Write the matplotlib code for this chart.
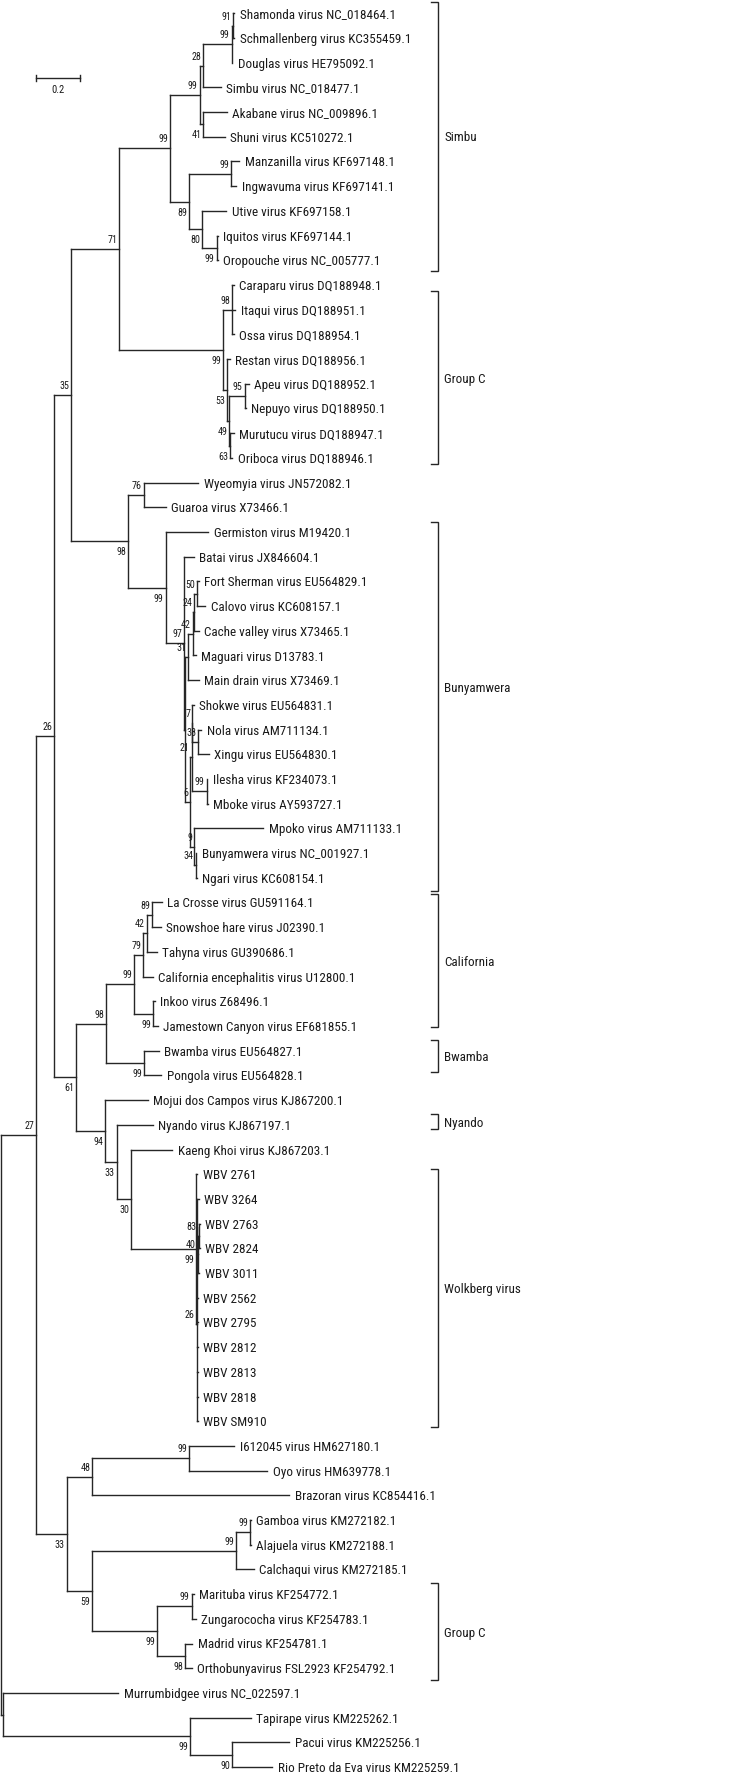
import matplotlib
matplotlib.use("Agg")
import matplotlib.pyplot as plt
from matplotlib import font_manager
from matplotlib.font_manager import FontProperties
from matplotlib.collections import LineCollection
from matplotlib.textpath import TextPath

# ---------------- data ----------------
leaf_names = [
    "Shamonda virus NC_018464.1", "Schmallenberg virus KC355459.1", "Douglas virus HE795092.1",
    "Simbu virus NC_018477.1", "Akabane virus NC_009896.1", "Shuni virus KC510272.1",
    "Manzanilla virus KF697148.1", "Ingwavuma virus KF697141.1", "Utive virus KF697158.1",
    "Iquitos virus KF697144.1", "Oropouche virus NC_005777.1", "Caraparu virus DQ188948.1",
    "Itaqui virus DQ188951.1", "Ossa virus DQ188954.1", "Restan virus DQ188956.1",
    "Apeu virus DQ188952.1", "Nepuyo virus DQ188950.1", "Murutucu virus DQ188947.1",
    "Oriboca virus DQ188946.1", "Wyeomyia virus JN572082.1", "Guaroa virus X73466.1",
    "Germiston virus M19420.1", "Batai virus JX846604.1", "Fort Sherman virus EU564829.1",
    "Calovo virus KC608157.1", "Cache valley virus X73465.1", "Maguari virus D13783.1",
    "Main drain virus X73469.1", "Shokwe virus EU564831.1", "Nola virus AM711134.1",
    "Xingu virus EU564830.1", "Ilesha virus KF234073.1", "Mboke virus AY593727.1",
    "Mpoko virus AM711133.1", "Bunyamwera virus NC_001927.1", "Ngari virus KC608154.1",
    "La Crosse virus GU591164.1", "Snowshoe hare virus J02390.1", "Tahyna virus GU390686.1",
    "California encephalitis virus U12800.1", "Inkoo virus Z68496.1",
    "Jamestown Canyon virus EF681855.1", "Bwamba virus EU564827.1", "Pongola virus EU564828.1",
    "Mojui dos Campos virus KJ867200.1", "Nyando virus KJ867197.1", "Kaeng Khoi virus KJ867203.1",
    "WBV 2761", "WBV 3264", "WBV 2763", "WBV 2824", "WBV 3011", "WBV 2562", "WBV 2795",
    "WBV 2812", "WBV 2813", "WBV 2818", "WBV SM910",
    "I612045 virus HM627180.1", "Oyo virus HM639778.1", "Brazoran virus KC854416.1",
    "Gamboa virus KM272182.1", "Alajuela virus KM272188.1", "Calchaqui virus KM272185.1",
    "Marituba virus KF254772.1", "Zungarococha virus KF254783.1", "Madrid virus KF254781.1",
    "Orthobunyavirus FSL2923 KF254792.1", "Murrumbidgee virus NC_022597.1",
    "Tapirape virus KM225262.1", "Pacui virus KM225256.1", "Rio Preto da Eva virus KM225259.1",
]

# distance of each tip from the root (substitutions / site)
leaf_depth = [
    1.0618, 1.0618, 1.0514, 0.9991, 1.0277, 1.0173, 1.0841, 1.0705, 1.0250, 0.9855,
    0.9855, 1.0582, 1.0659, 1.0582, 1.0400, 1.1264, 1.1150, 1.0582, 1.0523, 0.8982,
    0.7500, 0.9436, 0.8764, 0.8991, 0.9295, 0.8991, 0.8855, 0.8991, 0.8764, 0.9114,
    0.9459, 0.9400, 0.9414, 1.1936, 0.8886, 0.8914, 0.7323, 0.7264, 0.7095, 0.6914,
    0.6991, 0.7141, 0.7173, 0.7295, 0.6686, 0.6914, 0.7795, 0.8932, 0.8991, 0.9059,
    0.9059, 0.9036, 0.8959, 0.8959, 0.8959, 0.8959, 0.8959, 0.8959, 1.0627, 1.2114,
    1.3127, 1.1377, 1.1377, 1.1505, 0.8764, 0.8855, 0.8705, 0.8686, 0.5345, 1.1355,
    1.3127, 1.2341,
]

# internal nodes: name -> children (leaf indices or node names)
node_children = {
    "root": ["n27", "nM"],
    "nM": [68, "n99t"],
    "n99t": [69, "n90"],
    "n90": [70, 71],
    "n27": ["n26", "n33b"],
    "n26": ["n35", "n61"],
    "n35": ["n71", "n98b"],
    "n71": ["nSimbu", "nGC"],
    "nSimbu": ["n99a", "n89"],
    "n99a": ["n28", "n41"],
    "n28": ["n99s", 3],
    "n99s": ["n91", 2],
    "n91": [0, 1],
    "n41": [4, 5],
    "n89": ["n99m", "n80"],
    "n99m": [6, 7],
    "n80": [8, "n99o"],
    "n99o": [9, 10],
    "nGC": ["n98c", "n53"],
    "n98c": [11, 12, 13],
    "n53": [14, "n49"],
    "n49": ["n95", "n63"],
    "n95": [15, 16],
    "n63": [17, 18],
    "n98b": ["n76", "n99bun"],
    "n76": [19, 20],
    "n99bun": [21, "n97"],
    "n97": [22, "nX"],
    "nX": ["n31", "n6"],
    "n31": ["n42", 27],
    "n42": ["n24", 26],
    "n24": ["n50", 25],
    "n50": [23, 24],
    "n6": ["n21", "n9"],
    "n21": ["n7", "n99i"],
    "n7": [28, "n38"],
    "n38": [29, 30],
    "n99i": [31, 32],
    "n9": [33, "n34"],
    "n34": [34, 35],
    "n61": ["n98cb", "n94"],
    "n98cb": ["n99cal", "n99bw"],
    "n99cal": ["n79", "n99ij"],
    "n79": ["n42L", 39],
    "n42L": ["n89L", 38],
    "n89L": [36, 37],
    "n99ij": [40, 41],
    "n99bw": [42, 43],
    "n94": [44, "n33"],
    "n33": [45, "n30"],
    "n30": [46, "nWBV"],
    "nWBV": [47, "nRest"],
    "nRest": ["nG", 52, 53, 54, 55, 56, 57],
    "nG": [48, "n40"],
    "n40": ["n83", 51],
    "n83": [49, 50],
    "n33b": ["n48", "n59"],
    "n48": ["n99io", 60],
    "n99io": [58, 59],
    "n59": ["n99gac", "n99gc2"],
    "n99gac": ["n99ga", 63],
    "n99ga": [61, 62],
    "n99gc2": ["n99mz", "n98mf"],
    "n99mz": [64, 65],
    "n98mf": [66, 67],
}

node_depth = {
    "root": 0.0, "nM": 0.0086, "n99t": 0.8605, "n90": 1.0527, "n27": 0.1605,
    "n26": 0.2423, "n35": 0.3195, "n71": 0.5377, "nSimbu": 0.7695, "n99a": 0.9045,
    "n28": 0.9195, "n99s": 1.0500, "n91": 1.0559, "n41": 0.9209, "n89": 0.8559,
    "n99m": 1.0468, "n80": 0.9164, "n99o": 0.9818, "nGC": 1.0118, "n98c": 1.0514,
    "n53": 1.0273, "n49": 1.0391, "n95": 1.1082, "n63": 1.0423, "n98b": 0.5800,
    "n76": 0.6514, "n99bun": 0.7500, "n97": 0.8332, "nX": 0.8391, "n31": 0.8527,
    "n42": 0.8727, "n24": 0.8800, "n50": 0.8945, "n6": 0.8605, "n21": 0.8682,
    "n7": 0.8709, "n38": 0.8982, "n99i": 0.9355, "n9": 0.8786, "n34": 0.8855,
    "n61": 0.3423, "n98cb": 0.4786, "n99cal": 0.6073, "n79": 0.6482, "n42L": 0.6636,
    "n89L": 0.6891, "n99ij": 0.6936, "n99bw": 0.6527, "n94": 0.4741, "n33": 0.5273,
    "n30": 0.5923, "nWBV": 0.8877, "nRest": 0.8905, "nG": 0.8923, "n40": 0.8959,
    "n83": 0.9005, "n33b": 0.3000, "n48": 0.4164, "n99io": 0.8559, "n59": 0.4164,
    "n99gac": 1.0695, "n99ga": 1.1332, "n99gc2": 0.7118, "n99mz": 0.8682, "n98mf": 0.8377,
}

node_support = {
    "n99t": 99, "n90": 90, "n27": 27, "n26": 26, "n35": 35, "n71": 71, "nSimbu": 99,
    "n99a": 99, "n28": 28, "n99s": 99, "n91": 91, "n41": 41, "n89": 89, "n99m": 99,
    "n80": 80, "n99o": 99, "nGC": 99, "n98c": 98, "n53": 53, "n49": 49, "n95": 95,
    "n63": 63, "n98b": 98, "n76": 76, "n99bun": 99, "n97": 97, "n31": 31, "n42": 42,
    "n24": 24, "n50": 50, "n6": 6, "n21": 21, "n7": 7, "n38": 38, "n99i": 99, "n9": 9,
    "n34": 34, "n61": 61, "n98cb": 98, "n99cal": 99, "n79": 79, "n42L": 42, "n89L": 89,
    "n99ij": 99, "n99bw": 99, "n94": 94, "n33": 33, "n30": 30, "nWBV": 99, "nRest": 26,
    "n40": 40, "n83": 83, "n33b": 33, "n48": 48, "n99io": 99, "n59": 59, "n99gac": 99,
    "n99ga": 99, "n99gc2": 99, "n99mz": 99, "n98mf": 98,
}

clade_names = ["Simbu", "Group C", "Bunyamwera", "California", "Bwamba", "Nyando",
               "Wolkberg virus", "Group C"]
clade_first = ["Shamonda virus NC_018464.1", "Caraparu virus DQ188948.1",
               "Germiston virus M19420.1", "La Crosse virus GU591164.1",
               "Bwamba virus EU564827.1", "Nyando virus KJ867197.1", "WBV 2761",
               "Marituba virus KF254772.1"]
clade_last = ["Oropouche virus NC_005777.1", "Oriboca virus DQ188946.1",
              "Ngari virus KC608154.1", "Jamestown Canyon virus EF681855.1",
              "Pongola virus EU564828.1", "Nyando virus KJ867197.1", "WBV SM910",
              "Orthobunyavirus FSL2923 KF254792.1"]

scale_length = 0.2

# ---------------- style ----------------
support_below = {"n41", "n89", "n80", "n99o", "nGC", "n53", "n49", "n63", "n98b",
                 "n99bun", "n99ij", "n99bw", "n61", "n94", "n33", "n30", "nWBV",
                 "n33b", "n59", "n99gc2", "n98mf", "n99t", "n90"}

# bracket extension above first / below last leaf (in rows), label shift (rows)
bracket_pad = [(0.47, 0.43), (-0.23, 0.26), (0.39, 0.53), (0.34, 0.05),
               (0.43, -0.15), (0.44, 0.18), (0.20, 0.25), (0.44, 0.48)]
label_shift = [0.0, 0.0, -0.78, 0.0, 0.0, 0.0, -0.40, 0.0]


def pick_font():
    entries = font_manager.fontManager.ttflist
    prefs = ["Liberation Sans Narrow", "Roboto Condensed", "Open Sans Condensed",
             "Noto Sans Condensed", "DejaVu Sans Condensed"]
    for p in prefs:
        for e in entries:
            if e.name == p and e.style == "normal" and str(e.weight) in ("400", "normal", "book", "regular"):
                return FontProperties(fname=e.fname), True
    for e in entries:
        if (str(e.stretch) in ("condensed", "semi-condensed") and e.style == "normal"
                and str(e.weight) in ("400", "normal", "regular", "book")
                and any(k in e.name for k in ("Sans", "Roboto", "Lato", "Inter"))):
            return FontProperties(fname=e.fname), True
    return FontProperties(family="Liberation Sans"), False


FP, NARROW = pick_font()

# choose a size so that a reference label has the width seen in the chart
REF_TEXT = "Shamonda virus NC_018464.1"
REF_WIDTH_PX = 153.0
tp = TextPath((0, 0), REF_TEXT, size=10, prop=FP)
w10_px = tp.get_extents().width * 100.0 / 72.0
LEAF_FS = 10 * REF_WIDTH_PX / w10_px
if not NARROW:
    LEAF_FS *= 1.04
SUP_FS = LEAF_FS * 0.76

W, H, DPI = 747, 1777, 100
PX = 1.0 / 220.0          # tree units per pixel
ROW = 24.7                # pixels per leaf row
TOP = 13.3                # pixel y of first leaf
ROOT_PX = 0.7
LINE_C = "#262626"
TEXT_C = "#1a1a1a"
LW = 1.0

fig = plt.figure(figsize=(W / DPI, H / DPI), dpi=DPI)
ax = fig.add_axes([0, 0, 1, 1])
ax.set_xlim(-ROOT_PX * PX, (W - ROOT_PX) * PX)
ax.set_ylim((H - TOP) / ROW, -TOP / ROW)
ax.axis("off")

pos = {}


def layout(n):
    if isinstance(n, int):
        pos[n] = (leaf_depth[n], float(n))
        return pos[n]
    ys = [layout(c)[1] for c in node_children[n]]
    pos[n] = (node_depth[n], (ys[0] + ys[-1]) / 2.0)
    return pos[n]


layout("root")

segs = []
for n, ch in node_children.items():
    x, y = pos[n]
    y0 = pos[ch[0]][1]
    y1 = pos[ch[-1]][1]
    segs.append([(x, y0), (x, y1)])
    for c in ch:
        cx, cy = pos[c]
        segs.append([(x, cy), (cx, cy)])
ax.add_collection(LineCollection(segs, colors=LINE_C, linewidths=LW,
                                 capstyle="projecting"))

# leaf labels
for i, name in enumerate(leaf_names):
    x, y = pos[i]
    ax.text(x + 5.5 * PX, y, name, fontproperties=FP, fontsize=LEAF_FS, color=TEXT_C,
            ha="left", va="center_baseline")

# support values
for n, s in node_support.items():
    x, y = pos[n]
    dy = (10.0 if n in support_below else -10.0) / ROW
    ax.text(x - 2.0 * PX, y + dy, str(s), fontproperties=FP, fontsize=SUP_FS,
            color=TEXT_C, ha="right", va="center_baseline")

# clade brackets
bx = (437.7 - ROOT_PX) * PX
tick = 6.5 * PX
for k, (name, a, b) in enumerate(zip(clade_names, clade_first, clade_last)):
    i0 = leaf_names.index(a)
    i1 = leaf_names.index(b)
    pt, pb = bracket_pad[k]
    ya, yb = i0 - pt, i1 + pb
    ax.plot([bx - tick, bx, bx, bx - tick], [ya, ya, yb, yb], color=LINE_C,
            lw=LW, solid_joinstyle="miter")
    ax.text(bx + 6.5 * PX, (ya + yb) / 2.0 + label_shift[k], name, fontproperties=FP,
            fontsize=LEAF_FS, color=TEXT_C, ha="left", va="center_baseline")

# scale bar
sx = (36.0 - ROOT_PX) * PX
sy = (78.3 - TOP) / ROW
cap = 3.0 / ROW
ax.plot([sx, sx + scale_length], [sy, sy], color=LINE_C, lw=LW)
ax.plot([sx, sx], [sy - cap, sy + cap], color=LINE_C, lw=LW)
ax.plot([sx + scale_length, sx + scale_length], [sy - cap, sy + cap], color=LINE_C, lw=LW)
ax.text(sx + scale_length / 2, sy + 11.0 / ROW, f"{scale_length}", fontproperties=FP,
        fontsize=SUP_FS * 1.05, color=TEXT_C, ha="center", va="center_baseline")

fig.savefig("out.png", dpi=DPI, facecolor="white")
